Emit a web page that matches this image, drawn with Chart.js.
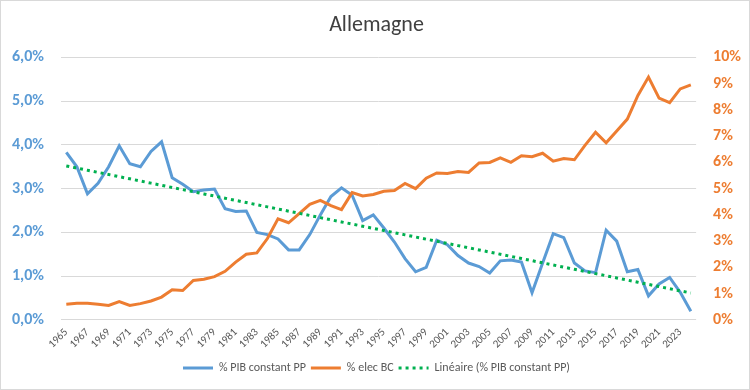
<!DOCTYPE html>
<html>
<head>
<meta charset="utf-8">
<script src="https://cdn.jsdelivr.net/npm/chart.js@4"></script>
<style>
  html, body { margin: 0; padding: 0; background: #fff; }
  #wrap { width: 750px; height: 390px; box-sizing: border-box; border: 1px solid #d9d9d9; position: relative; }
  canvas { display: block; }
</style>
</head>
<body>
<div id="wrap"><canvas id="c" width="748" height="388"></canvas></div>
<script>
const years = [];
for (let y = 1965; y <= 2024; y++) years.push(String(y));

const pibConstantPP = [
  3.83, 3.50, 2.88, 3.12, 3.50, 3.98, 3.57, 3.50, 3.85, 4.07,
  3.25, 3.10, 2.93, 2.97, 2.99, 2.54, 2.48, 2.49, 2.00, 1.95,
  1.85, 1.60, 1.60, 1.95, 2.40, 2.82, 3.02, 2.85, 2.27, 2.40,
  2.10, 1.78, 1.40, 1.10, 1.20, 1.82, 1.72, 1.47, 1.30, 1.22,
  1.07, 1.35, 1.37, 1.32, 0.62, 1.30, 1.97, 1.88, 1.30, 1.12,
  1.08, 2.05, 1.80, 1.10, 1.15, 0.55, 0.82, 0.97, 0.63, 0.20
];

const elecBC = [
  0.60, 0.63, 0.63, 0.60, 0.55, 0.70, 0.55, 0.62, 0.72, 0.87,
  1.15, 1.12, 1.50, 1.55, 1.65, 1.85, 2.20, 2.50, 2.55, 3.10,
  3.85, 3.70, 4.05, 4.40, 4.55, 4.35, 4.20, 4.85, 4.72, 4.78,
  4.90, 4.93, 5.20, 5.00, 5.40, 5.60, 5.58, 5.65, 5.62, 5.98,
  6.00, 6.17, 6.00, 6.25, 6.22, 6.35, 6.05, 6.15, 6.10, 6.65,
  7.15, 6.75, 7.20, 7.65, 8.55, 9.25, 8.45, 8.28, 8.80, 8.95
];

const leftTicks = ["0,0%", "1,0%", "2,0%", "3,0%", "4,0%", "5,0%", "6,0%"];
const rightTicks = ["0%", "1%", "2%", "3%", "4%", "5%", "6%", "7%", "8%", "9%", "10%"];

// Linear trendline (least squares), as Excel's "Linéaire"
function linearTrend(vals) {
  const n = vals.length;
  let sx = 0, sy = 0, sxx = 0, sxy = 0;
  vals.forEach((v, i) => { sx += i; sy += v; sxx += i * i; sxy += i * v; });
  const b = (n * sxy - sx * sy) / (n * sxx - sx * sx);
  const a = (sy - b * sx) / n;
  return vals.map((_, i) => a + b * i);
}
const trend = linearTrend(pibConstantPP);

const FONT = "Carlito, Calibri, 'Liberation Sans', sans-serif";
const TICK_PAD = 17;

new Chart(document.getElementById('c'), {
  type: 'line',
  data: {
    labels: years,
    datasets: [
      { label: '% PIB constant PP', data: pibConstantPP, yAxisID: 'y',
        borderColor: '#5B9BD5', backgroundColor: '#5B9BD5', borderWidth: 3,
        pointRadius: 0, tension: 0, order: 3 },
      { label: '% elec BC', data: elecBC, yAxisID: 'y1',
        borderColor: '#ED7D31', backgroundColor: '#ED7D31', borderWidth: 3,
        pointRadius: 0, tension: 0, order: 2 },
      { label: 'Linéaire (% PIB constant PP)', data: trend, yAxisID: 'y',
        borderColor: '#00B050', backgroundColor: '#00B050', borderWidth: 3,
        borderDash: [3, 4], pointRadius: 0, tension: 0, order: 1 }
    ]
  },
  options: {
    responsive: false,
    animation: false,
    layout: { padding: { left: 11, right: 8, top: 0, bottom: 5 } },
    plugins: {
      title: {
        display: true, text: 'Allemagne', color: '#404040',
        font: { family: FONT, size: 22, weight: 'normal' },
        padding: { top: 11, bottom: 19 }
      },
      legend: {
        position: 'bottom',
        labels: {
          usePointStyle: true, pointStyle: 'line', pointStyleWidth: 30,
          color: '#595959', font: { family: FONT, size: 12 }, padding: 5,
          sort: (a, b) => a.datasetIndex - b.datasetIndex,
          generateLabels: function (chart) {
            const items = Chart.defaults.plugins.legend.labels.generateLabels(chart);
            items.forEach(it => {
              const ds = chart.data.datasets[it.datasetIndex];
              it.lineDash = ds.borderDash || [];
              it.lineWidth = 3;
              it.strokeStyle = ds.borderColor;
            });
            return items;
          }
        }
      },
      tooltip: { enabled: false }
    },
    scales: {
      x: {
        offset: true,
        grid: { display: false, drawTicks: false },
        border: { display: false },
        afterFit: function (scale) { scale.paddingLeft = 0; scale.paddingRight = 0; },
        ticks: {
          autoSkip: false, maxRotation: 45, minRotation: 45,
          color: '#595959', font: { family: FONT, size: 11 }, padding: 6,
          callback: function (v, i) { return i % 2 === 0 ? years[i] : ''; }
        }
      },
      y: {
        position: 'left', min: 0, max: 6,
        grid: { color: '#D9D9D9', lineWidth: 1, drawTicks: false },
        border: { display: false },
        afterFit: function (scale) { scale.width -= TICK_PAD; },
        ticks: {
          stepSize: 1, color: '#5B9BD5', padding: TICK_PAD,
          font: { family: FONT, size: 16, weight: 'bold' },
          callback: function (v) { return leftTicks[Math.round(v)]; }
        }
      },
      y1: {
        position: 'right', min: 0, max: 10,
        grid: { display: false, drawTicks: false },
        border: { display: false },
        afterFit: function (scale) { scale.width -= TICK_PAD; },
        ticks: {
          stepSize: 1, color: '#ED7D31', padding: TICK_PAD,
          font: { family: FONT, size: 16, weight: 'bold' },
          callback: function (v) { return rightTicks[Math.round(v)]; }
        }
      }
    }
  }
});
</script>
</body>
</html>
